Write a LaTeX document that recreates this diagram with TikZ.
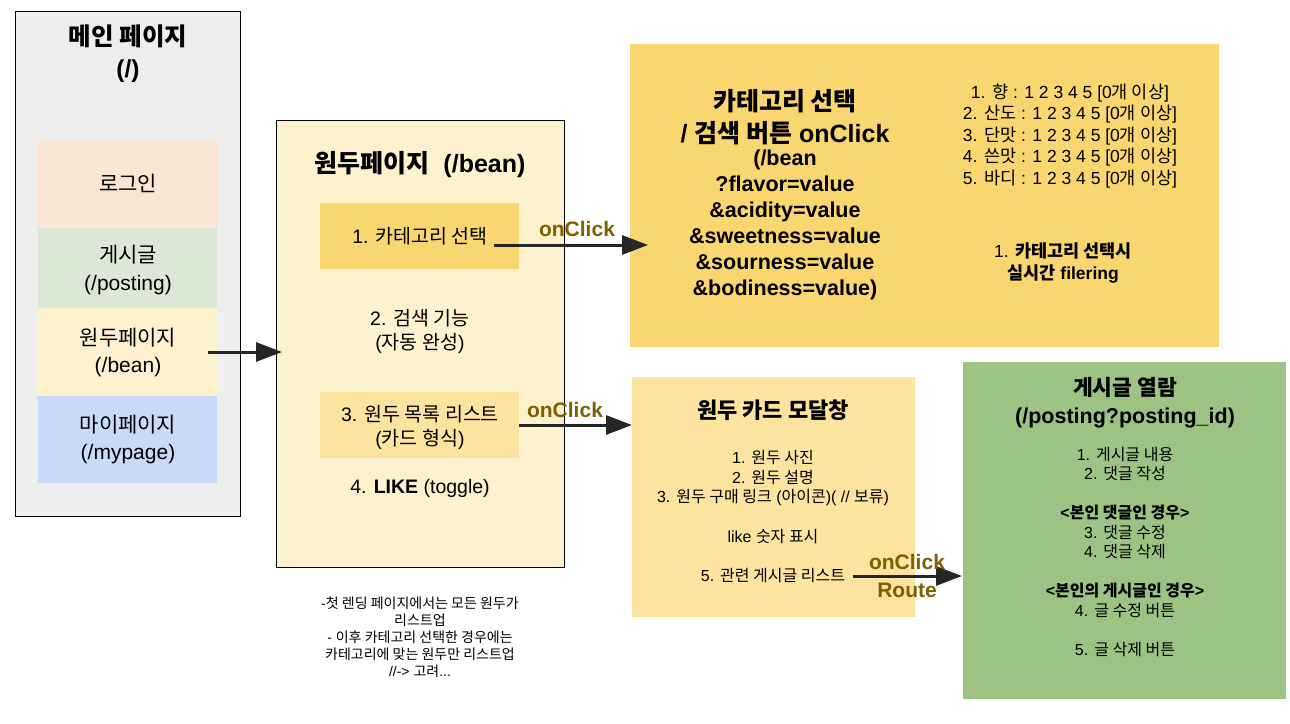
\documentclass[tikz,border=0pt]{standalone}
\usepackage{fontspec}
\setmainfont{Liberation Sans}
\newfontfamily\krf{Noto Sans CJK KR}[Scale=1.0]
\newcommand\K[1]{{\krf #1}}
\usetikzlibrary{arrows.meta,calc}
\definecolor{mainbg}{HTML}{EEEEEE}
\definecolor{peachC}{HTML}{F9E5D3}
\definecolor{lgreenC}{HTML}{DCE8D5}
\definecolor{creamC}{HTML}{FEF1CE}
\definecolor{lblueC}{HTML}{C9DAF8}
\definecolor{goldC}{HTML}{F9D66F}
\definecolor{lgoldC}{HTML}{FCE4A0}
\definecolor{greenC}{HTML}{9DC384}
\definecolor{oliveC}{HTML}{7F6000}
\definecolor{arrowC}{HTML}{262626}
\newcommand\fs[2]{\fontsize{#1}{#2}\selectfont}
\tikzset{
  panel/.style={inner sep=0pt, outer sep=0pt},
  lbl/.style={align=center, inner sep=0pt, text=black},
  arr/.style={line width=3pt, draw=arrowC, -{Triangle[length=26pt,width=19pt]}},
  olv/.style={text=oliveC, font=\bfseries\fs{21}{28}, inner sep=0pt, align=center},
}
\begin{document}
\begin{tikzpicture}[x=1pt,y=-1pt]
\useasboundingbox (0,0) rectangle (1290,723);
% main page
\node[panel, fill=mainbg, draw=black, line width=1pt, minimum width=225, minimum height=505] (main) at (127.5,263.5) {};
\node[lbl, font=\bfseries\fs{24.5}{32}] (maint) at (128,54) {\K{메인 페이지}\\(/)};
\node[panel, fill=peachC, minimum width=179, minimum height=88] (login) at (127.5,184) {};
\node[panel, fill=lgreenC, minimum width=179, minimum height=80] (posting) at (127.5,268) {};
\node[panel, fill=creamC, minimum width=179, minimum height=88] (beanitem) at (127.5,352) {};
\node[panel, fill=lblueC, minimum width=179, minimum height=87] (mypage) at (127.5,439.5) {};
\node[lbl, font=\fs{21}{27}] (logint) at (128,183) {\K{로그인}};
\node[lbl, font=\fs{21}{28}] (postingt) at (128,270) {\K{게시글}\\(/posting)};
\node[lbl, font=\fs{21}{27}] (beanitemt) at (128,352.5) {\K{원두페이지}\\(/bean)};
\node[lbl, font=\fs{21}{27}] (mypaget) at (128,439.5) {\K{마이페이지}\\(/mypage)};
% bean page
\node[panel, fill=creamC, draw=black, line width=1pt, minimum width=288, minimum height=447] (bean) at (420,343.5) {};
\node[lbl, font=\bfseries\fs{25}{30}] (beant) at (420,165) {\K{원두페이지}\ \ (/bean)};
\node[panel, fill=goldC, minimum width=199, minimum height=66] (cat) at (419.5,236) {};
\node[lbl, font=\fs{19.5}{24}] (catt) at (420,236) {1. \K{카테고리 선택}};
\node[lbl, font=\fs{19.5}{24}] (search) at (420,331) {2. \K{검색 기능}\\(\K{자동 완성})};
\node[panel, fill=lgoldC, minimum width=199, minimum height=66] (list) at (419.5,425) {};
\node[lbl, font=\fs{19.5}{24}] (listt) at (420,427) {3. \K{원두 목록 리스트}\\(\K{카드 형식})};
\node[lbl, font=\fs{19.5}{24}] (like) at (420,488) {4. \textbf{LIKE} (toggle)};
\node[lbl, font=\fs{14}{17}] (note) at (420,637) {-\K{첫 렌딩 페이지에서는 모든 원두가}\\\K{리스트업}\\- \K{이후 카테고리 선택한 경우에는}\\\K{카테고리에 맞는 원두만 리스트업}\\//-> \K{고려}...};
% gold box
\node[panel, fill=goldC, minimum width=589, minimum height=303] (gold) at (924.5,195.5) {};
\node[lbl, font=\bfseries\fs{25}{32}] (goldt) at (785,117) {\K{카테고리 선택}\\/ \K{검색 버튼} onClick};
\node[lbl, font=\bfseries\fs{21.5}{26}] (query) at (785,225) {(/bean\\?flavor=value\\\&acidity=value\\\&sweetness=value\\\&sourness=value\\\&bodiness=value)};
\node[lbl, font=\fs{17.5}{21.5}] (scale) at (1070,136) {1. \K{향} : 1 2 3 4 5 [0\K{개 이상}]\\2. \K{산도} : 1 2 3 4 5 [0\K{개 이상}]\\3. \K{단맛} : 1 2 3 4 5 [0\K{개 이상}]\\4. \K{쓴맛} : 1 2 3 4 5 [0\K{개 이상}]\\5. \K{바디} : 1 2 3 4 5 [0\K{개 이상}]};
\node[lbl, font=\fs{17.5}{22}] (filt) at (1063,263) {1. \textbf{\K{카테고리 선택시}}\\\textbf{\K{실시간} filering}};
% modal
\node[panel, fill=lgoldC, minimum width=283, minimum height=240] (modal) at (773.5,497) {};
\node[lbl, font=\bfseries\fs{22}{26}] (modalt) at (773,410) {\K{원두 카드 모달창}};
\node[lbl, font=\fs{16}{19.5}] (modalb) at (773,478.5) {1. \K{원두 사진}\\2. \K{원두 설명}\\3. \K{원두 구매 링크} (\K{아이콘})( // \K{보류})};
\node[lbl, font=\fs{16}{19.5}] (likecnt) at (773,537) {like \K{숫자 표시}};
\node[lbl, font=\fs{16}{19.5}] (rel) at (773,576) {5. \K{관련 게시글 리스트}};
% green
\node[panel, fill=greenC, minimum width=323, minimum height=337] (post) at (1124.5,530.5) {};
\node[lbl, font=\bfseries\fs{21.5}{28}] (postt) at (1125,403) {\K{게시글 열람}\\(/posting?posting\_id)};
\node[lbl, font=\fs{16}{19.5}] (postb) at (1125,552) {1. \K{게시글 내용}\\2. \K{댓글 작성}\\[19.5pt]\textbf{<\K{본인 댓글인 경우}>}\\3. \K{댓글 수정}\\4. \K{댓글 삭제}\\[19.5pt]\textbf{<\K{본인의 게시글인 경우}>}\\4. \K{글 수정 버튼}\\[19.5pt]5. \K{글 삭제 버튼}};
% arrows
\draw[arr] ($(beanitem.east)+(-9,0)$) -- ($(bean.west)+(6,8.5)$);
\draw[arr] ($(cat.east)+(-25,9)$) -- ($(gold.west)+(18,49.5)$);
\draw[arr] ($(list.east)+(0,0)$) -- ($(modal.west)+(0,-72)$);
\draw[arr] ($(rel.east)+(8,0)$) -- ($(post.west)+(-1,45.5)$);
\node[olv] (oc1) at (577,229) {onClick};
\node[olv] (oc2) at (565,410) {onClick};
\node[olv] (oc3) at (907,576) {onClick\\Route};
\end{tikzpicture}
\end{document}
